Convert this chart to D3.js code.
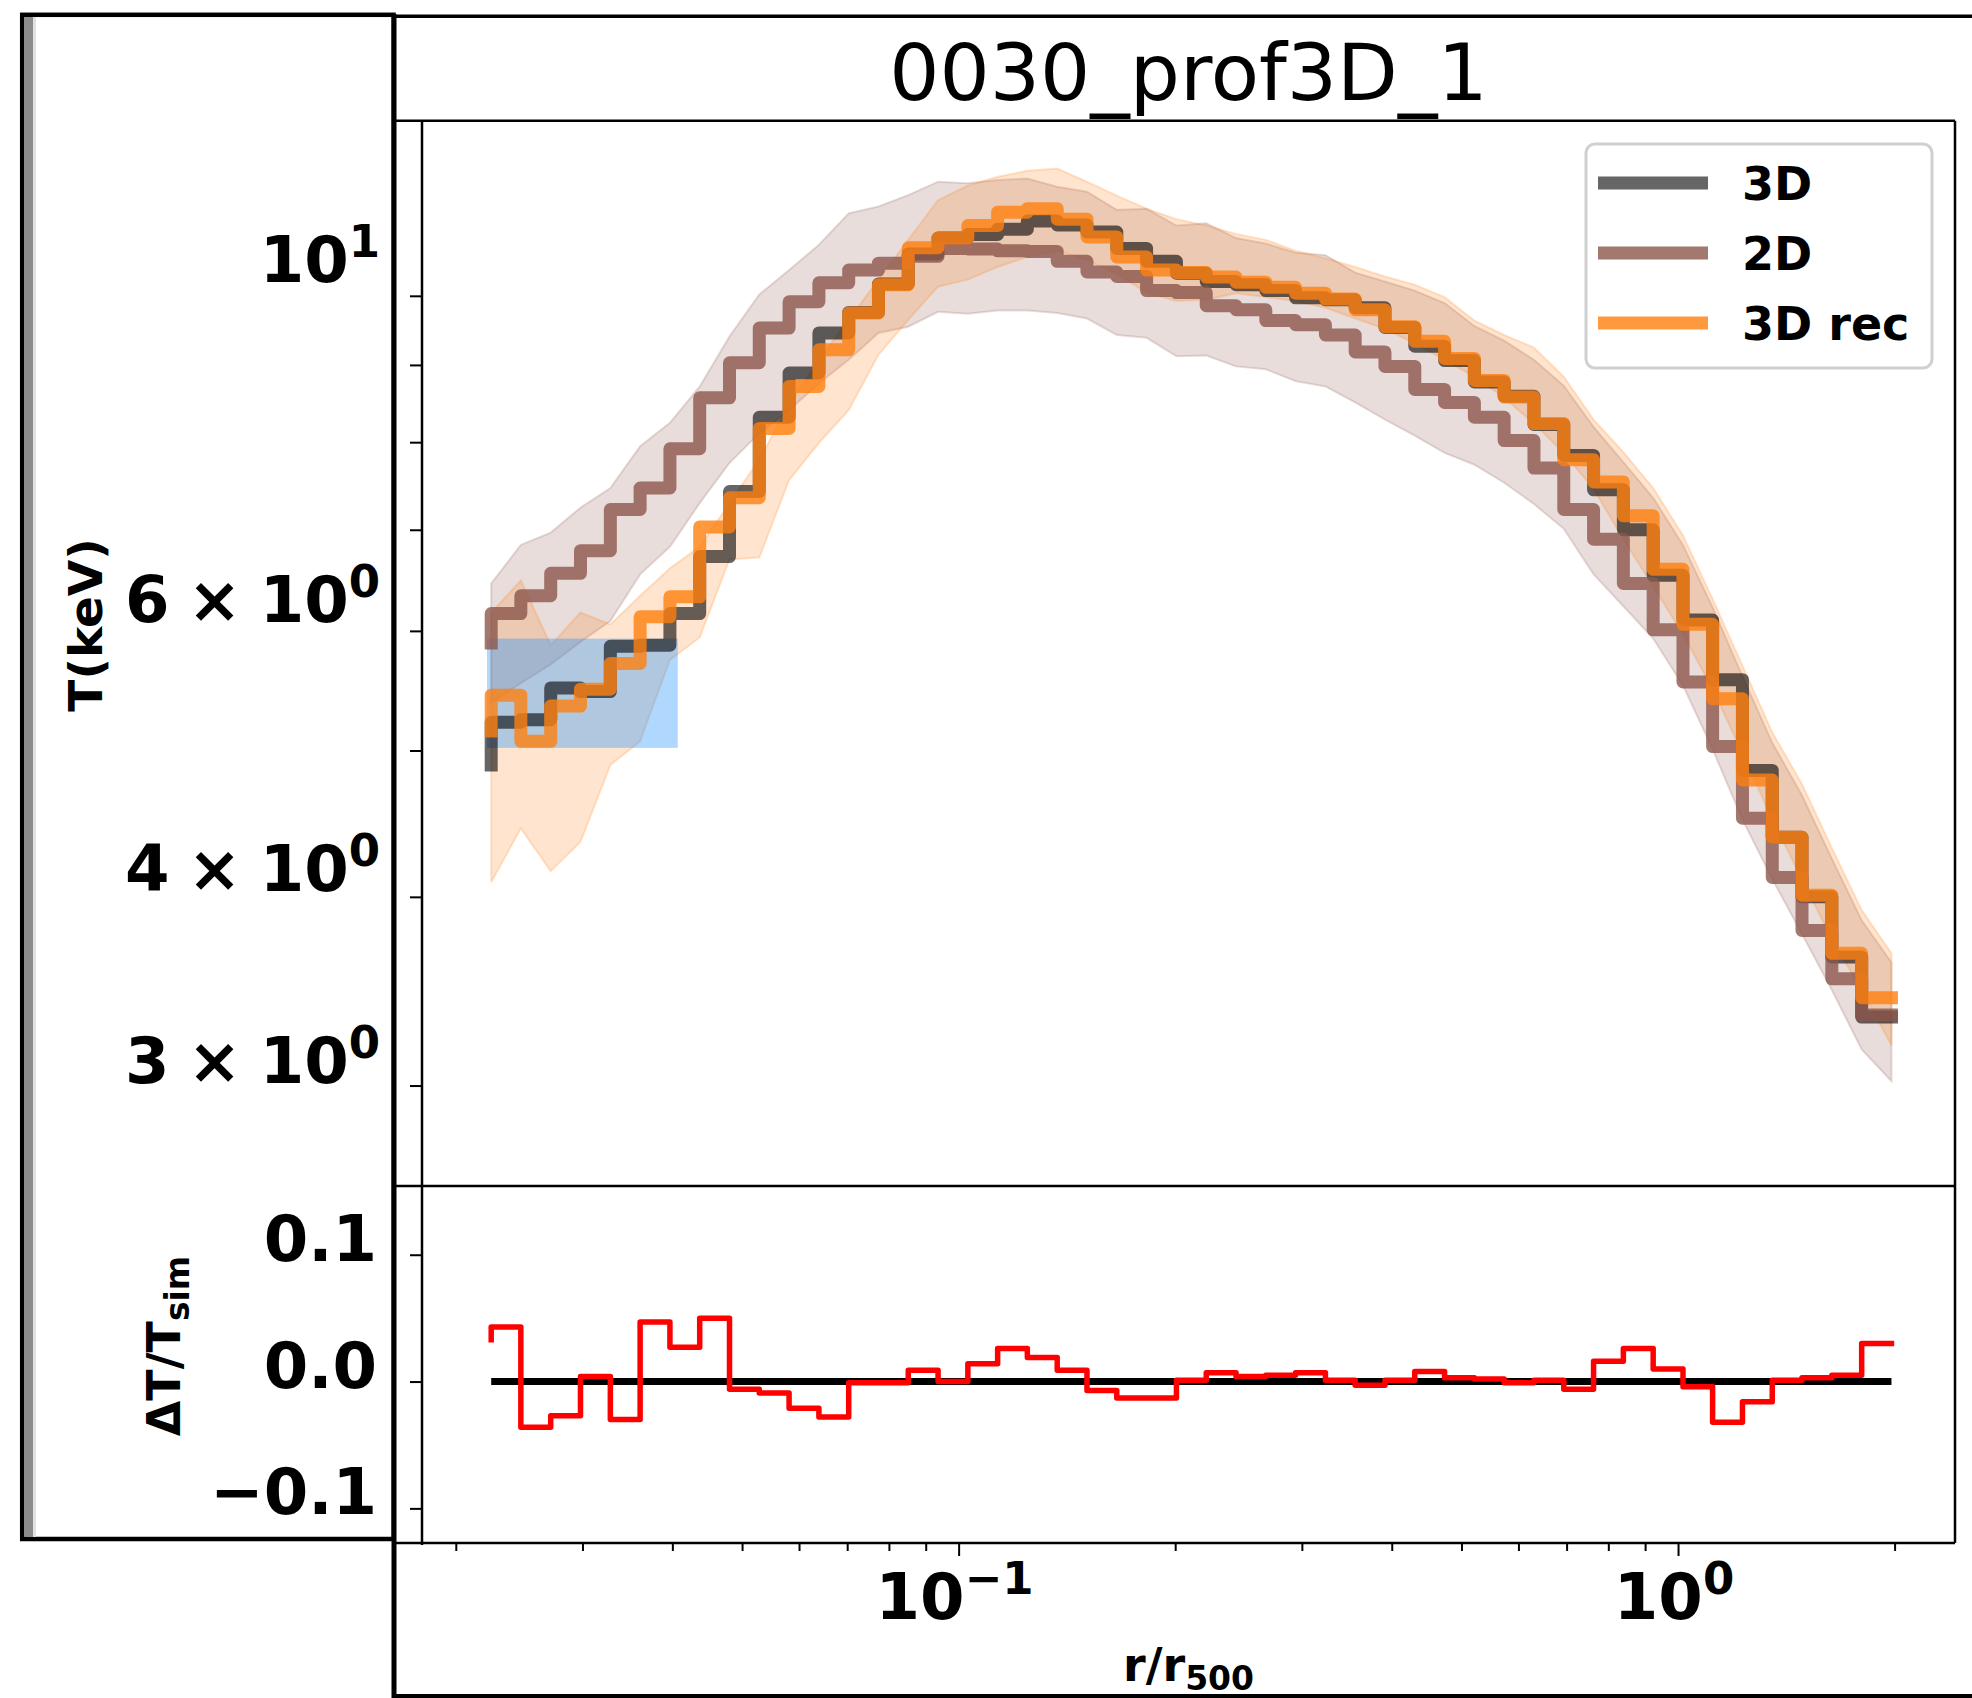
<!DOCTYPE html>
<html>
<head>
<meta charset="utf-8">
<script src="https://cdnjs.cloudflare.com/ajax/libs/d3/7.8.5/d3.min.js"></script>
<style>
body { margin: 0; background: #fff; }
text { font-family: "DejaVu Sans", sans-serif; }
</style>
</head>
<body>
<div id="chart"></div>
<script>
// radial bins (r/r500), step edges
var radius = [0.02240, 0.02463, 0.02710, 0.02981, 0.03280, 0.03608, 0.03969, 0.04366, 0.04803, 0.05283,
    0.05812, 0.06394, 0.07034, 0.07737, 0.08511, 0.09363, 0.1030, 0.1133, 0.1246, 0.1371,
    0.1508, 0.1659, 0.1825, 0.2008, 0.2209, 0.2430, 0.2673, 0.2940, 0.3235, 0.3558,
    0.3914, 0.4306, 0.4737, 0.5211, 0.5732, 0.6306, 0.6937, 0.7631, 0.8395, 0.9235,
    1.016, 1.117, 1.229, 1.352, 1.487, 1.636, 1.800, 1.980];

var t3d = [4.89, 5.22, 5.24, 5.50, 5.47, 5.86, 5.87, 6.16, 6.72, 7.42,
    8.31, 8.89, 9.45, 9.75, 10.18, 10.66, 10.92, 10.98, 11.07, 11.21,
    11.14, 11.02, 10.75, 10.54, 10.35, 10.22, 10.17, 10.08, 9.97, 9.94,
    9.82, 9.53, 9.26, 9.06, 8.77, 8.58, 8.22, 7.84, 7.44, 7.00,
    6.53, 6.10, 5.57, 4.85, 4.38, 4.00, 3.65, 3.33];

var t2d = [5.89, 6.16, 6.33, 6.55, 6.78, 7.22, 7.46, 7.92, 8.56, 9.03,
    9.52, 9.91, 10.20, 10.40, 10.51, 10.62, 10.75, 10.74, 10.71, 10.70,
    10.54, 10.37, 10.30, 10.08, 10.05, 9.85, 9.79, 9.63, 9.57, 9.42,
    9.18, 8.98, 8.67, 8.50, 8.31, 8.02, 7.69, 7.22, 6.90, 6.45,
    6.01, 5.55, 5.03, 4.51, 4.12, 3.80, 3.53, 3.34];

var tRec = [5.15, 5.44, 5.07, 5.35, 5.49, 5.71, 6.13, 6.32, 7.03, 7.35,
    8.17, 8.71, 9.21, 9.74, 10.17, 10.76, 10.92, 11.13, 11.36, 11.42,
    11.24, 10.94, 10.61, 10.40, 10.36, 10.29, 10.21, 10.13, 10.04, 9.95,
    9.79, 9.54, 9.33, 9.09, 8.79, 8.57, 8.23, 7.79, 7.53, 7.15,
    6.59, 6.06, 5.41, 4.78, 4.38, 4.01, 3.67, 3.43];

var band2dLow = [5.38, 5.54, 5.70, 5.90, 6.09, 6.54, 6.82, 7.29, 7.75, 8.11,
    8.40, 8.75, 9.07, 9.45, 9.54, 9.76, 9.73, 9.78, 9.78, 9.74,
    9.66, 9.42, 9.38, 9.12, 9.13, 8.98, 8.94, 8.78, 8.71, 8.50,
    8.28, 8.08, 7.87, 7.73, 7.52, 7.28, 7.01, 6.54, 6.23, 5.93,
    5.52, 5.01, 4.50, 4.11, 3.78, 3.47, 3.17, 3.02];

var band2dHigh = [6.45, 6.84, 6.97, 7.24, 7.46, 7.95, 8.24, 8.71, 9.40, 10.02,
    10.40, 10.81, 11.34, 11.46, 11.66, 11.90, 11.87, 11.93, 11.96, 11.81,
    11.72, 11.40, 11.42, 11.13, 11.17, 10.92, 10.83, 10.68, 10.64, 10.36,
    10.22, 10.08, 9.89, 9.55, 9.34, 9.07, 8.72, 8.19, 7.76, 7.35,
    6.84, 6.22, 5.60, 5.06, 4.67, 4.24, 3.86, 3.62];

var bandRecLow = [4.09, 4.44, 4.16, 4.35, 4.89, 5.07, 5.74, 5.94, 6.69, 6.71,
    7.55, 7.99, 8.40, 9.14, 9.64, 10.14, 10.25, 10.45, 10.61, 10.71,
    10.56, 10.34, 10.05, 9.92, 9.94, 10.04, 9.98, 9.92, 9.82, 9.66,
    9.51, 9.30, 9.07, 8.84, 8.56, 8.23, 7.87, 7.45, 6.90, 6.42,
    5.97, 5.49, 4.98, 4.50, 4.11, 3.75, 3.47, 3.19];

var bandRecHigh = [6.17, 6.48, 5.87, 6.17, 6.06, 6.33, 6.60, 6.82, 7.29, 7.79,
    8.47, 9.07, 9.64, 10.25, 10.89, 11.57, 11.83, 11.99, 12.10, 12.14,
    11.90, 11.65, 11.42, 11.24, 11.13, 10.99, 10.89, 10.71, 10.59, 10.45,
    10.30, 10.17, 9.98, 9.63, 9.42, 9.24, 8.84, 8.28, 7.88, 7.46,
    6.94, 6.30, 5.69, 5.14, 4.75, 4.31, 3.92, 3.67];

var resid = [0.033, 0.043, -0.036, -0.027, 0.004, -0.030, 0.047, 0.027, 0.050, -0.006,
    -0.009, -0.021, -0.028, -0.001, -0.001, 0.009, 0.000, 0.014, 0.026, 0.019,
    0.009, -0.007, -0.013, -0.013, 0.001, 0.007, 0.004, 0.005, 0.007, 0.001,
    -0.003, 0.001, 0.008, 0.003, 0.002, -0.001, 0.001, -0.006, 0.016, 0.026,
    0.010, -0.004, -0.032, -0.016, 0.001, 0.003, 0.005, 0.030];

// highlighted core region
var boxR = [0.0221, 0.0407];
var boxT = [5.02, 5.93];

var yTickVals = [3, 4, 5, 6, 7, 8, 9, 10];
var yLabels = [[10, "", "1"], [6, "6 \u00d7 ", "0"], [4, "4 \u00d7 ", "0"], [3, "3 \u00d7 ", "0"]];
var resTicks = [-0.1, 0.0, 0.1];
var resLabels = ["\u22120.1", "0.0", "0.1"];
var xMajor = [0.1, 1];
var xMajorExp = ["\u22121", "0"];
var xMinor = [0.02, 0.03, 0.04, 0.05, 0.06, 0.07, 0.08, 0.09, 0.2, 0.3, 0.4, 0.5, 0.6, 0.7, 0.8, 0.9, 2];

var seriesNames = ["3D", "2D", "3D rec"];
var seriesColors = ["#000000", "#8c564b", "#ff7f0e"];
var seriesAlpha = [0.6, 0.8, 0.8];

var W = 1972, H = 1698;
var axLeft = 422, axRight = 1955, axTop = 120.7, axMid = 1186, axBottom = 1543;

var svg = d3.select("#chart").append("svg")
    .attr("width", W)
    .attr("height", H);

var x = d3.scaleLog().domain([0.01795, 2.4266]).range([axLeft, axRight]);
var y = d3.scaleLog().domain([2.574, 13.06]).range([axMid, axTop]);
var yRes = d3.scaleLinear().domain([-0.1273, 0.1542]).range([axBottom, axMid]);

var defs = svg.append("defs");
defs.append("clipPath").attr("id", "clipMain").append("rect")
    .attr("x", axLeft).attr("y", axTop).attr("width", axRight - axLeft).attr("height", axMid - axTop);
defs.append("clipPath").attr("id", "clipRes").append("rect")
    .attr("x", axLeft).attr("y", axMid).attr("width", axRight - axLeft).attr("height", axBottom - axMid);

var idx = d3.range(radius.length);

// bands
var band = function(lo, hi) {
    return d3.area()
        .x(function(i) { return x(radius[i]); })
        .y0(function(i) { return y(lo[i]); })
        .y1(function(i) { return y(hi[i]); })(idx);
};

var main = svg.append("g").attr("clip-path", "url(#clipMain)");

main.append("path")
    .attr("d", band(band2dLow, band2dHigh))
    .attr("fill", "#8c564b").attr("fill-opacity", 0.2)
    .attr("stroke", "#8c564b").attr("stroke-opacity", 0.2).attr("stroke-width", 2);

main.append("path")
    .attr("d", band(bandRecLow, bandRecHigh))
    .attr("fill", "#ff7f0e").attr("fill-opacity", 0.2)
    .attr("stroke", "#ff7f0e").attr("stroke-opacity", 0.2).attr("stroke-width", 2);

main.append("rect")
    .attr("x", x(boxR[0]))
    .attr("y", y(boxT[1]))
    .attr("width", x(boxR[1]) - x(boxR[0]))
    .attr("height", y(boxT[0]) - y(boxT[1]))
    .attr("fill", "#1e90ff")
    .attr("fill-opacity", 0.35);

var step = function(vals, ys) {
    return d3.line()
        .curve(d3.curveStepBefore)
        .x(function(i) { return x(radius[i]); })
        .y(function(i) { return ys(vals[i]); })(idx);
};

[t3d, t2d, tRec].forEach(function(vals, k) {
    main.append("path")
        .attr("d", step(vals, y))
        .attr("fill", "none")
        .attr("stroke", seriesColors[k])
        .attr("stroke-opacity", seriesAlpha[k])
        .attr("stroke-width", 13)
        .attr("stroke-linejoin", "round")
        .attr("stroke-linecap", "square");
});

// residual panel
var res = svg.append("g").attr("clip-path", "url(#clipRes)");
res.append("line")
    .attr("x1", x(radius[0])).attr("x2", x(radius[radius.length - 1]))
    .attr("y1", yRes(0)).attr("y2", yRes(0))
    .attr("stroke", "#000").attr("stroke-width", 7);
res.append("path")
    .attr("d", step(resid, yRes))
    .attr("fill", "none")
    .attr("stroke", "#ff0000")
    .attr("stroke-width", 5.5)
    .attr("stroke-linejoin", "round")
    .attr("stroke-linecap", "square");

// legend
var leg = svg.append("g").attr("transform", "translate(1586,144)");
leg.append("rect")
    .attr("width", 346).attr("height", 224).attr("rx", 9)
    .attr("fill", "#fff").attr("fill-opacity", 0.8)
    .attr("stroke", "#d0d0d0").attr("stroke-width", 3);
seriesNames.forEach(function(name, k) {
    leg.append("line")
        .attr("x1", 12).attr("x2", 122)
        .attr("y1", 39 + k * 70).attr("y2", 39 + k * 70)
        .attr("stroke", seriesColors[k])
        .attr("stroke-opacity", seriesAlpha[k])
        .attr("stroke-width", 13);
    leg.append("text")
        .attr("x", 156).attr("y", 56 + k * 70)
        .attr("font-size", 46).attr("font-weight", "bold")
        .text(name);
});

// axes ticks
var styleAxis = function(g) {
    g.select(".domain").remove();
    g.selectAll(".tick line").attr("stroke", "#000").attr("stroke-width", 2);
};

svg.append("g").attr("transform", "translate(" + axLeft + ",0)")
    .call(d3.axisLeft(y).tickValues(yTickVals).tickSize(12).tickFormat(""))
    .call(styleAxis);
svg.append("g").attr("transform", "translate(" + axLeft + ",0)")
    .call(d3.axisLeft(yRes).tickValues(resTicks).tickSize(12).tickFormat(""))
    .call(styleAxis);
svg.append("g").attr("transform", "translate(0," + axBottom + ")")
    .call(d3.axisBottom(x).tickValues(xMinor).tickSize(8).tickFormat(""))
    .call(styleAxis);
svg.append("g").attr("transform", "translate(0," + axBottom + ")")
    .call(d3.axisBottom(x).tickValues(xMajor).tickSize(13).tickFormat(""))
    .call(styleAxis);

// frame lines
var frame = svg.append("g").attr("stroke", "#000").attr("stroke-width", 2.5);
[axTop, axMid, axBottom].forEach(function(v) {
    frame.append("line").attr("x1", 396).attr("x2", axRight).attr("y1", v).attr("y2", v);
});
frame.append("line").attr("x1", axLeft).attr("x2", axLeft).attr("y1", axTop).attr("y2", axBottom + 2);
frame.append("line").attr("x1", axRight).attr("x2", axRight).attr("y1", axTop).attr("y2", axBottom);

// outer boxes
svg.append("line").attr("x1", 394).attr("x2", W).attr("y1", 16.3).attr("y2", 16.3)
    .attr("stroke", "#000").attr("stroke-width", 3.5);
svg.append("line").attr("x1", 394).attr("x2", W).attr("y1", 1696).attr("y2", 1696)
    .attr("stroke", "#000").attr("stroke-width", 4);
svg.append("line").attr("x1", 394).attr("x2", 394).attr("y1", 14).attr("y2", H)
    .attr("stroke", "#000").attr("stroke-width", 5);

var side = svg.append("g");
side.append("rect")
    .attr("x", 22.2).attr("y", 14.8).attr("width", 371.3).attr("height", 1524.2)
    .attr("fill", "#fff").attr("stroke", "#000").attr("stroke-width", 4.5);
side.append("rect").attr("x", 24.5).attr("y", 17).attr("width", 8.5).attr("height", 1520).attr("fill", "#8c8c8c");
side.append("rect").attr("x", 33).attr("y", 17).attr("width", 3).attr("height", 1520).attr("fill", "#e2e2e2");

// tick labels
var labelY = function(v) { return 1.014 * y(v) - 18; };
yLabels.forEach(function(d) {
    var t = side.append("text")
        .attr("x", 380).attr("y", labelY(d[0]))
        .attr("text-anchor", "end")
        .attr("word-spacing", -4)
        .attr("font-size", 64).attr("font-weight", "bold");
    t.append("tspan").text(d[1] + "10");
    t.append("tspan").attr("dy", -25).attr("font-size", 45).text(d[2]);
});

resTicks.forEach(function(v, k) {
    side.append("text")
        .attr("x", 377).attr("y", yRes(v) + 6)
        .attr("text-anchor", "end")
        .attr("font-size", 64).attr("font-weight", "bold")
        .text(resLabels[k]);
});

xMajor.forEach(function(v, k) {
    var t = svg.append("text")
        .attr("x", x(v) - 4).attr("y", 1619)
        .attr("text-anchor", "middle")
        .attr("font-size", 64).attr("font-weight", "bold");
    t.append("tspan").text("10");
    t.append("tspan").attr("dy", -25).attr("font-size", 45).text(xMajorExp[k]);
});

// axis titles
side.append("text")
    .attr("transform", "translate(102,625) rotate(-90)")
    .attr("text-anchor", "middle")
    .attr("font-size", 47).attr("font-weight", "bold")
    .text("T(keV)");

var rl = side.append("text")
    .attr("transform", "translate(180,1346) rotate(-90)")
    .attr("text-anchor", "middle")
    .attr("font-size", 46).attr("font-weight", "bold");
rl.append("tspan").text("\u0394T/T");
rl.append("tspan").attr("dy", 9).attr("font-size", 33).text("sim");

var xl = svg.append("text")
    .attr("x", (axLeft + axRight) / 2).attr("y", 1681)
    .attr("text-anchor", "middle")
    .attr("font-size", 46).attr("font-weight", "bold");
xl.append("tspan").text("r/r");
xl.append("tspan").attr("dy", 9).attr("font-size", 33).text("500");

svg.append("text")
    .attr("x", (axLeft + axRight) / 2).attr("y", 100)
    .attr("text-anchor", "middle")
    .attr("font-size", 79)
    .text("0030_prof3D_1");
</script>
</body>
</html>
